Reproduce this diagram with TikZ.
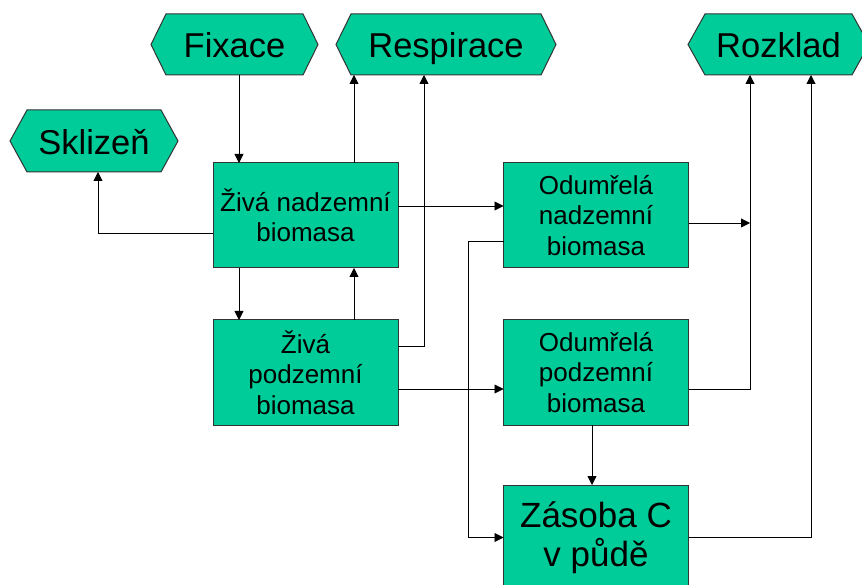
\documentclass[tikz,border=0pt]{standalone}
\usepackage{fontspec}
\setmainfont{Liberation Sans}
\usetikzlibrary{arrows.meta,backgrounds}
\definecolor{pptgreen}{HTML}{00CC99}
\definecolor{bordergray}{HTML}{333333}
\tikzset{
  box/.style={draw=bordergray, fill=pptgreen, line width=1pt, minimum width=185pt, minimum height=105pt,
    inner sep=0pt, outer sep=0pt, align=center, font=\fontsize{26}{30.5}\selectfont},
  bigbox/.style={box, font=\fontsize{35}{39}\selectfont},
  hexnode/.style={inner sep=0pt, outer sep=0pt, minimum height=61pt, text height=27pt, text depth=0pt,
    font=\fontsize{34.5}{40}\selectfont},
  hexshape/.style={fill=pptgreen, draw=bordergray, line width=1pt},
  arr/.style={-{Triangle[length=9pt,width=9pt]}, line width=0.9pt, draw=black},
}
\newcommand\drawhex[2]{\path[hexshape] (#1.west) -- ([xshift=#2]#1.north west) -- ([xshift=-#2]#1.north east) -- (#1.east) -- ([xshift=-#2]#1.south east) -- ([xshift=#2]#1.south west) -- cycle;}
\begin{document}
\begin{tikzpicture}[x=1pt,y=-1pt]
\useasboundingbox (0,0) rectangle (862,585);
\clip (0,0) rectangle (862,585);
% hexagon labels
\node[hexnode, minimum width=167pt] (fix)  at (234.5,44.5) {Fixace};
\node[hexnode, minimum width=220pt] (resp) at (446,44.5) {Respirace};
\node[hexnode, minimum width=181pt] (roz)  at (778.5,44.5) {Rozklad};
\node[hexnode, minimum width=168pt, minimum height=62pt] (skl) at (94,141) {Sklizeň};
\begin{pgfonlayer}{background}
\clip (0,0) rectangle (862,585);
\drawhex{fix}{15pt}
\drawhex{resp}{15pt}
\drawhex{roz}{17pt}
\drawhex{skl}{17pt}
\end{pgfonlayer}
% boxes
\node[box] (zn) at (305.5,215.5) {Živá nadzemní\\biomasa};
\node[box] (on) at (596,215.5) {Odumřelá\\nadzemní\\biomasa};
\node[box] (zp) at (305.5,372.5) {Živá\\podzemní\\biomasa};
\node[box] (op) at (596,372.5) {Odumřelá\\podzemní\\biomasa};
\node[bigbox] (zc) at (596,537.5) {Zásoba C\\v půdě};
% helper coordinates
\coordinate (cA) at (239,0);
\coordinate (cB) at (354,0);
\coordinate (cC) at (424,0);
\coordinate (cD) at (98,0);
\coordinate (cE) at (468,0);
\coordinate (cF) at (750,0);
\coordinate (cG) at (811,0);
\coordinate (cH) at (592,0);
\coordinate (y206) at (0,206);
\coordinate (y223) at (0,223);
\coordinate (y233) at (0,233);
\coordinate (y241) at (0,241);
\coordinate (y346) at (0,346);
\coordinate (y389) at (0,389);
% connectors
\draw[arr] (fix.south -| cA) -- (zn.north -| cA);
\draw[arr] (zn.north -| cB) -- (resp.south -| cB);
\draw[arr] (zn.south -| cA) -- (zp.north -| cA);
\draw[arr] (zp.north -| cB) -- (zn.south -| cB);
\draw[arr] (zp.east |- y346) -| (resp.south -| cC);
\draw[arr] (zn.west |- y233) -| (skl.south -| cD);
\draw[arr] (zn.east |- y206) -- (on.west |- y206);
\draw[arr] (zp.east |- y389) -- (op.west |- y389);
\draw[arr] (on.west |- y241) -| (cE |- zc.west) -- (zc.west);
\draw[arr] (on.east |- y223) -- (cF |- y223);
\draw[arr] (op.east |- y389) -| (roz.south -| cF);
\draw[arr] (zc.east) -| (roz.south -| cG);
\draw[arr] (op.south -| cH) -- (zc.north -| cH);
\end{tikzpicture}
\end{document}
